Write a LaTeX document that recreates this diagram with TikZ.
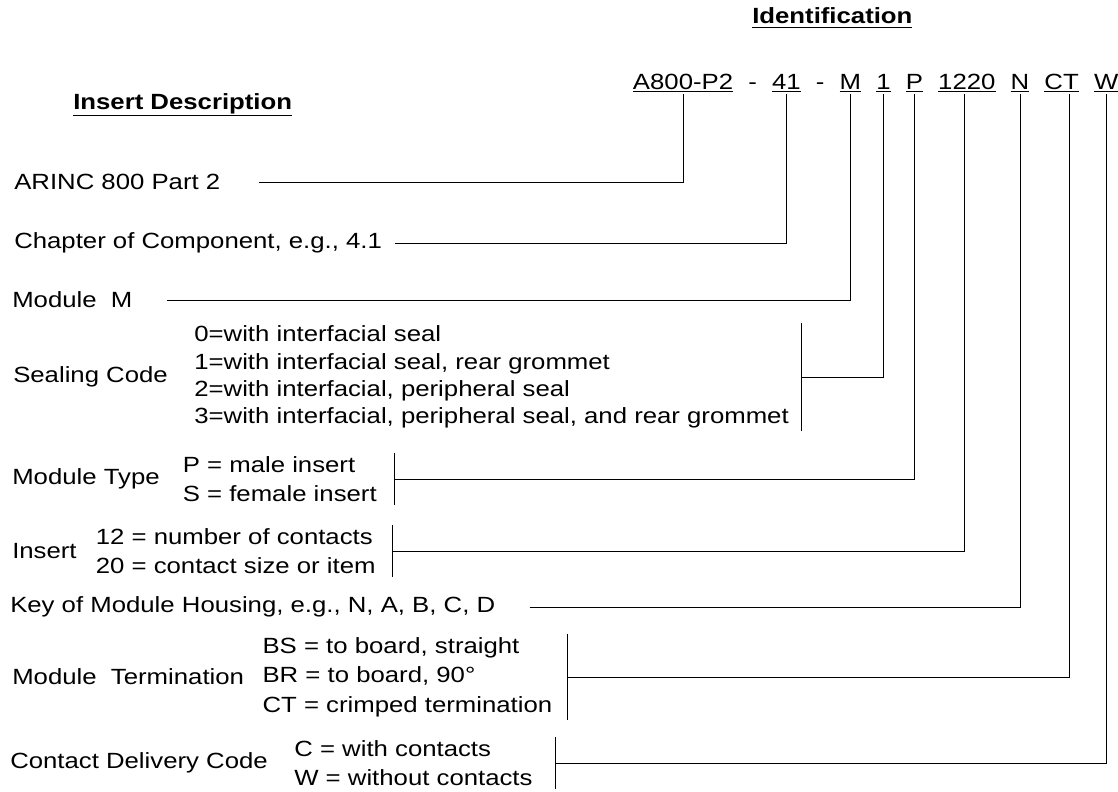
\documentclass[tikz,border=0pt]{standalone}
\usepackage{fontspec}
\setmainfont{Liberation Sans}[FakeStretch=1.17]
\usetikzlibrary{positioning}
\newcommand{\codeul}[1]{\setbox0\hbox{#1}\rlap{\rule[-2pt]{\wd0}{0.7pt}}\box0}
\newcommand{\headul}[2]{\setbox0\hbox{\bfseries #2}\rlap{\rule[#1]{\wd0}{1.1pt}}\box0}
\tikzset{
	x=0.75pt, y=-0.75pt, line width=0.7pt, node distance=11pt,
	every node/.style={inner sep=0pt, font=\fontsize{16.5pt}{22pt}\selectfont},
	lbl/.style={anchor=west},
	opts/.style={align=left, inner ysep=2pt},
	code/.style={inner ysep=1.2pt},
}

\begin{document}
\begin{tikzpicture}
	\useasboundingbox (0,0) rectangle (1118,792);
	\node[anchor=base west] (ident) at (752,24) {\headul{-3.3pt}{Identification}};
	\node[anchor=base west] (insdesc) at (73,110) {\headul{-4.5pt}{Insert Description}};

	\node[code, anchor=base west] (ca800) at (632.7,89.3) {\codeul{A800-P2}};
	\node[code, base right=of ca800] (d1) {-};
	\node[code, base right=of d1] (cchap) {\codeul{41}};
	\node[code, base right=of cchap] (d2) {-};
	\node[code, base right=of d2] (cmod) {\codeul{M}};
	\node[code, base right=of cmod] (cseal) {\codeul{1}};
	\node[code, base right=of cseal] (ctype) {\codeul{P}};
	\node[code, base right=of ctype] (cins) {\codeul{1220}};
	\node[code, base right=of cins] (ckey) {\codeul{N}};
	\node[code, base right=of ckey] (cterm) {\codeul{CT}};
	\node[code, base right=of cterm] (ccdc) {\codeul{W}};

	\node[lbl] (arinc) at (14,182) {ARINC 800 Part 2};
	\node[lbl] (chap) at (14,243) {Chapter of Component, e.g., 4.1};
	\node[lbl] (modm) at (12,300) {Module\ \ M};
	\node[lbl] (seal) at (13,377) {Sealing Code};
	\node[opts, right=19.5pt of seal, font=\fontsize{16.5pt}{20.5pt}\selectfont] (sealopt)
		{0=with interfacial seal\\1=with interfacial seal, rear grommet\\2=with interfacial, peripheral seal\\3=with interfacial, peripheral seal, and rear grommet};
	\node[lbl] (mtype) at (12,479) {Module Type};
	\node[opts, right=17pt of mtype] (mtypeopt) {P = male insert\\S = female insert};
	\node[lbl] (ins) at (12,551) {Insert};
	\node[opts, right=14pt of ins] (insopt) {12 = number of contacts\\20 = contact size or item};
	\node[lbl] (key) at (10,607) {Key of Module Housing, e.g., N, A, B, C, D};
	\node[lbl] (term) at (12,677) {Module\ \ Termination};
	\node[opts, right=13.5pt of term] (termopt) {BS = to board, straight\\BR = to board, 90°\\CT = crimped termination};
	\node[lbl] (cdc) at (10,763) {Contact Delivery Code};
	\node[opts, right=19.5pt of cdc] (cdcopt) {C = with contacts\\W = without contacts};

	\draw ([xshift=29pt]arinc.east) -| (ca800.south);
	\draw ([xshift=9.5pt]chap.east) -| (cchap.south);
	\draw ([xshift=25.5pt]modm.east) -| (cmod.south);
	\draw ([xshift=9pt]sealopt.north east) -- ([xshift=9pt]sealopt.south east)
		([xshift=9pt]sealopt.east) -| (cseal.south);
	\draw ([xshift=12.75pt]mtypeopt.north east) -- ([xshift=12.75pt]mtypeopt.south east)
		([xshift=12.75pt]mtypeopt.east) -| (ctype.south);
	\draw ([xshift=12pt]insopt.north east) -- ([xshift=12pt]insopt.south east)
		([xshift=12pt]insopt.east) -| ([xshift=-2pt]cins.south);
	\draw ([xshift=25.5pt]key.east) -| (ckey.south);
	\draw ([xshift=11pt]termopt.north east) -- ([xshift=11pt]termopt.south east)
		([xshift=11pt]termopt.east) -| ([xshift=6pt]cterm.south);
	\draw ([xshift=16.5pt]cdcopt.north east) -- ([xshift=16.5pt]cdcopt.south east)
		([xshift=16.5pt]cdcopt.east) -| (ccdc.south);
\end{tikzpicture}
\end{document}
